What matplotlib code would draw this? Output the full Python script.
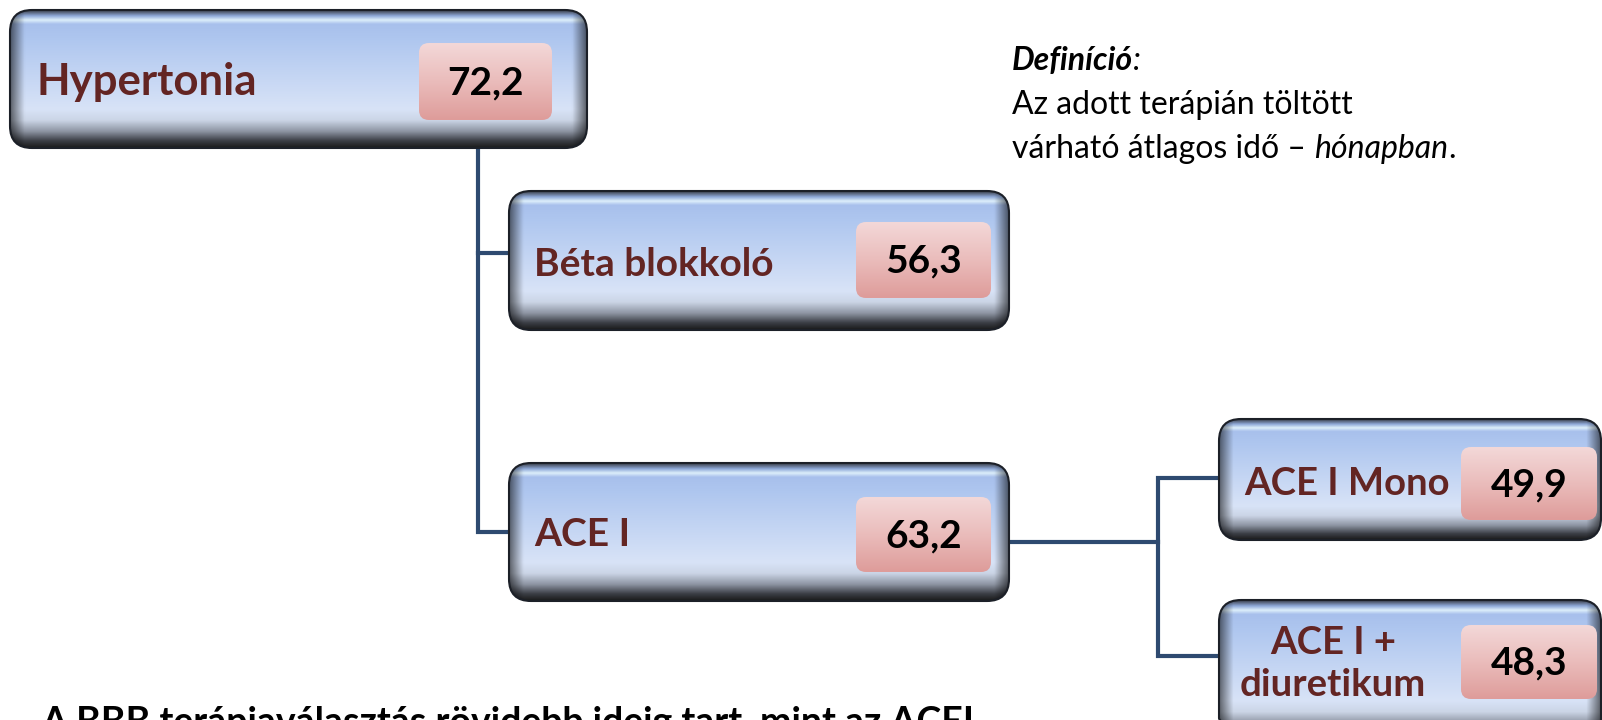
import matplotlib.pyplot as plt
import matplotlib.patches as mpatches
import matplotlib.colors as mcolors
import numpy as np

# chart content
labels = ["Hypertonia", "Béta blokkoló", "ACE I", "ACE I Mono", "ACE I +\ndiuretikum"]
values = ["72,2", "56,3", "63,2", "49,9", "48,3"]

definition_title = "Definíció"
definition_lines = ["Az adott terápián töltött", "várható átlagos idő – "]
definition_unit = "hónapban"
footer = "A BBB terápiaválasztás rövidebb ideig tart, mint az ACEI"

# layout in pixels (x, y, w, h) for box and value box
boxes = [(10, 10, 577, 138), (509, 191, 500, 139), (509, 463, 500, 138),
         (1219, 419, 382, 121), (1219, 600, 382, 140)]
vboxes = [(419, 43, 133, 77), (856, 222, 135, 76), (856, 497, 135, 75),
          (1461, 447, 136, 73), (1461, 625, 136, 74)]
label_pos = [(37, 82, "left"), (534, 264, "left"), (534, 535, "left"),
             (1244, 484, "left"), (1333, 664, "center")]
label_size = [31.5, 28, 28, 27.5, 27.5]

LINE = "#2E4A70"
TXT = "#632523"
FONT = ["Lato", "DejaVu Sans"]

W, H = 1602, 720
fig = plt.figure(figsize=(W / 100, H / 100), dpi=100)
ax = fig.add_axes([0, 0, 1, 1])
ax.set_xlim(0, W)
ax.set_ylim(H, 0)
ax.axis("off")

stops = [(0.00, "#3a3f4a"), (0.04, "#8FA9D8"), (0.07, "#DDEFFB"), (0.10, "#A8C0EC"),
         (0.20, "#AEC6EF"), (0.72, "#D8E3F7"), (0.80, "#CBD5E6"), (0.88, "#8E95A3"),
         (0.95, "#3b3e45"), (1.00, "#1a1a1a")]


def vertical_profile(n, stops):
    t = np.linspace(0, 1, n)
    pos = [s[0] for s in stops]
    cols = np.array([mcolors.to_rgb(s[1]) for s in stops])
    return np.stack([np.interp(t, pos, cols[:, k]) for k in range(3)], axis=1)


def glossy_box(x, y, w, h):
    n, m = 200, 300
    img = np.repeat(vertical_profile(n, stops)[:, None, :], m, axis=1)
    xs = np.linspace(0, w, m)
    edge = np.minimum(xs, w - xs)
    fac = 0.45 + 0.55 * np.clip(edge / 14.0, 0, 1)
    img = img * fac[None, :, None]
    patch = mpatches.FancyBboxPatch((x, y), w, h, boxstyle="round,pad=0,rounding_size=22",
                                    fc="none", ec="#1c2028", lw=1.5, zorder=3)
    ax.add_patch(patch)
    im = ax.imshow(img, extent=(x, x + w, y + h, y), origin="upper",
                   interpolation="bilinear", zorder=2, aspect="auto")
    im.set_clip_path(patch)


def value_box(x, y, w, h):
    grad = vertical_profile(100, [(0, "#F3D8D8"), (0.5, "#EABCBB"), (1, "#DE9C9A")])
    img = np.repeat(grad[:, None, :], 10, axis=1)
    patch = mpatches.FancyBboxPatch((x, y), w, h, boxstyle="round,pad=0,rounding_size=10",
                                    fc="none", ec="none", zorder=4)
    ax.add_patch(patch)
    im = ax.imshow(img, extent=(x, x + w, y + h, y), origin="upper",
                   interpolation="bilinear", zorder=4, aspect="auto")
    im.set_clip_path(patch)


# connectors
lw = 3
ax.plot([478, 478, 509], [148, 532, 532], color=LINE, lw=lw, zorder=1, solid_joinstyle="miter")
ax.plot([478, 509], [253, 253], color=LINE, lw=lw, zorder=1)
ax.plot([1009, 1158], [542, 542], color=LINE, lw=lw, zorder=1)
ax.plot([1219, 1158, 1158, 1219], [478, 478, 656, 656], color=LINE, lw=lw, zorder=1,
        solid_joinstyle="miter")

for i, lab in enumerate(labels):
    glossy_box(*boxes[i])
    value_box(*vboxes[i])
    tx, ty, ha = label_pos[i]
    ax.text(tx, ty, lab, ha=ha, va="center", fontsize=label_size[i], fontweight="bold",
            color=TXT, family=FONT, zorder=6, linespacing=1.25)
    vx, vy, vw, vh = vboxes[i]
    ax.text(vx + vw / 2, vy + vh / 2 + 1, values[i], ha="center", va="center", fontsize=28,
            fontweight="bold", color="black", family=FONT, zorder=6)

# definition note
fs = 23
t1 = ax.text(1012, 61, definition_title, fontsize=fs, fontweight="bold", style="italic",
             family=FONT, va="center", ha="left")
ax.annotate(":", xycoords=t1, xy=(1, 0.5), va="center", ha="left", fontsize=fs,
            style="italic", family=FONT)
ax.text(1012, 105, definition_lines[0], fontsize=fs, family=FONT, va="center", ha="left")
t3 = ax.text(1012, 149, definition_lines[1], fontsize=fs, family=FONT, va="center", ha="left")
t4 = ax.annotate(definition_unit, xycoords=t3, xy=(1, 0.5), va="center", ha="left",
                 fontsize=fs, style="italic", family=FONT)
ax.annotate(".", xycoords=t4, xy=(1, 0.5), va="center", ha="left", fontsize=fs, family=FONT)

# footer, cut by the bottom edge as in the source slide
ax.text(41, 706, footer, fontsize=27, fontweight="bold", family=FONT, va="top", ha="left",
        color="black", zorder=6)

fig.savefig("out.png", dpi=100)
